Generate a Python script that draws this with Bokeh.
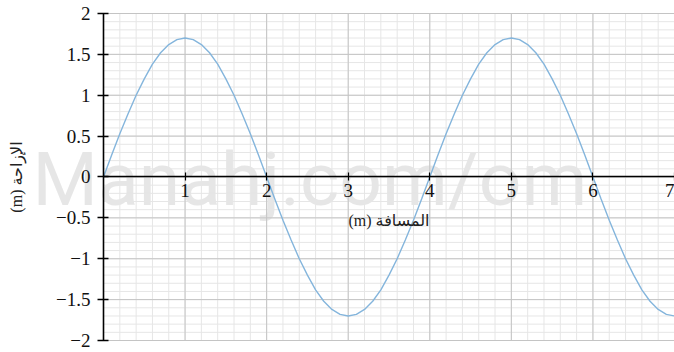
from bokeh.plotting import figure
from bokeh.models import (Range1d, LinearAxis, FixedTicker, Label)
from bokeh.embed import file_html
from bokeh.resources import INLINE

# ---- data ----
distance = [round(i * 0.1, 1) for i in range(71)]
displacement = [
    0.00, 0.27, 0.53, 0.77, 1.00, 1.20, 1.38, 1.52, 1.62, 1.68,
    1.70, 1.68, 1.62, 1.52, 1.38, 1.20, 1.00, 0.77, 0.53, 0.27,
    0.00, -0.27, -0.53, -0.77, -1.00, -1.20, -1.38, -1.52, -1.62, -1.68,
    -1.70, -1.68, -1.62, -1.52, -1.38, -1.20, -1.00, -0.77, -0.53, -0.27,
    0.00, 0.27, 0.53, 0.77, 1.00, 1.20, 1.38, 1.52, 1.62, 1.68,
    1.70, 1.68, 1.62, 1.52, 1.38, 1.20, 1.00, 0.77, 0.53, 0.27,
    0.00, -0.27, -0.53, -0.77, -1.00, -1.20, -1.38, -1.52, -1.62, -1.68,
    -1.70,
]
x_ticks = [1, 2, 3, 4, 5, 6, 7]
x_tick_labels = ["1", "2", "3", "4", "5", "6", "7"]
y_ticks = [-2, -1.5, -1, -0.5, 0, 0.5, 1, 1.5, 2]
y_tick_labels = ["\u22122", "\u22121.5", "\u22121", "\u22120.5", "0", "0.5", "1", "1.5", "2"]
x_minor = [round(i * 0.2, 1) for i in range(36)]
y_minor = [round(-2 + i * 0.1, 1) for i in range(41)]
x_label = "(m) المسافة"
y_label = "(m) الإزاحة"
watermark = "Manahj.com/om"

X_MIN, X_MAX = 0, 7
Y_MIN, Y_MAX = -2, 2
# padding of the view around the data area (room for the axis labels)
VIEW_X = (-1.2627, 7)
VIEW_Y = (-2.1468, 2.159)

p = figure(width=674, height=352, x_range=Range1d(*VIEW_X), y_range=Range1d(*VIEW_Y),
           output_backend="svg", toolbar_location=None,
           x_axis_type=None, y_axis_type=None,
           min_border_left=0, min_border_right=0, min_border_top=0, min_border_bottom=0)
p.outline_line_color = None
p.background_fill_color = "white"
p.border_fill_color = "white"

serif = "Liberation Serif"

# watermark
p.add_layout(Label(x=-0.87, y=-0.02, text=watermark,
                   text_font="Roboto", text_font_size="75px", text_color="#d6d6d6",
                   text_alpha=0.6, text_baseline="alphabetic", level="underlay"))

MINOR_C, MAJOR_C = "#e6e6e6", "#c4c4c4"
# vertical grid lines
p.segment(x0=x_minor, x1=x_minor, y0=[Y_MIN] * len(x_minor), y1=[Y_MAX] * len(x_minor),
          line_color=MINOR_C, line_width=1)
# horizontal grid lines
p.segment(x0=[X_MIN] * len(y_minor), x1=[X_MAX] * len(y_minor), y0=y_minor, y1=y_minor,
          line_color=MINOR_C, line_width=1)
p.segment(x0=x_ticks, x1=x_ticks, y0=[Y_MIN] * len(x_ticks), y1=[Y_MAX] * len(x_ticks),
          line_color=MAJOR_C, line_width=1)
p.segment(x0=[X_MIN] * len(y_ticks), x1=[X_MAX] * len(y_ticks), y0=y_ticks, y1=y_ticks,
          line_color=MAJOR_C, line_width=1)

# curve
p.line(distance, displacement, line_color="#84b5dc", line_width=1.4)

# y axis at x = 0
yaxis = LinearAxis(ticker=FixedTicker(ticks=y_ticks), fixed_location=0, bounds=(Y_MIN, Y_MAX),
                   major_label_overrides={t: s for t, s in zip(y_ticks, y_tick_labels)},
                   axis_label=y_label)
yaxis.axis_line_color = "black"
yaxis.axis_line_width = 1.6
yaxis.major_tick_out = 6
yaxis.major_tick_in = 5
yaxis.major_tick_line_width = 1.4
yaxis.minor_tick_line_color = None
yaxis.major_label_standoff = 7
yaxis.major_label_text_font = serif
yaxis.major_label_text_font_size = "19px"
yaxis.major_label_text_color = "#111111"
yaxis.axis_label_text_font = "Liberation Serif, DejaVu Sans"
yaxis.axis_label_text_font_size = "16px"
yaxis.axis_label_text_font_style = "normal"
yaxis.axis_label_text_color = "#222222"
yaxis.axis_label_standoff = 28
p.add_layout(yaxis, "left")

# x axis at y = 0
xaxis = LinearAxis(ticker=FixedTicker(ticks=x_ticks), fixed_location=0, bounds=(X_MIN, X_MAX),
                   major_label_overrides={t: s for t, s in zip(x_ticks, x_tick_labels)},
                   axis_label=x_label)
xaxis.axis_line_color = "black"
xaxis.axis_line_width = 1.6
xaxis.major_tick_out = 4
xaxis.major_tick_in = 4
xaxis.major_tick_line_width = 1.2
xaxis.minor_tick_line_color = None
xaxis.major_label_standoff = 3
xaxis.major_label_text_font = serif
xaxis.major_label_text_font_size = "19px"
xaxis.major_label_text_color = "#111111"
xaxis.axis_label_text_font = "Liberation Serif, DejaVu Sans"
xaxis.axis_label_text_font_size = "16px"
xaxis.axis_label_text_font_style = "normal"
xaxis.axis_label_text_color = "#222222"
xaxis.axis_label_standoff = 12
p.add_layout(xaxis, "below")

open("out.html", "w").write(file_html(p, INLINE))
